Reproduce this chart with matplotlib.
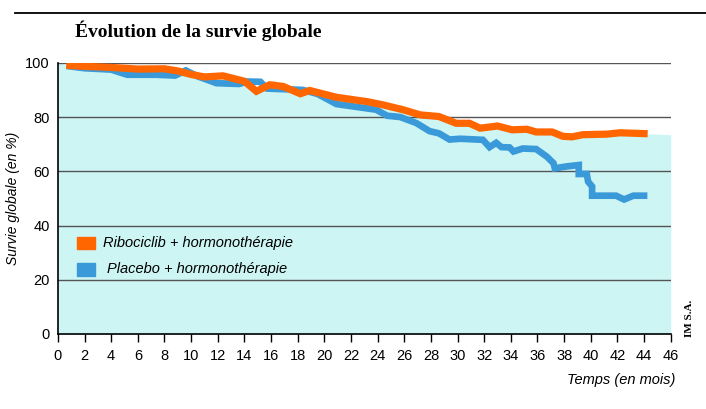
import matplotlib.pyplot as plt

# données (mois, survie en %)
ribo_mois = [0.9, 2, 4, 6, 8, 9, 10, 11, 12.4, 14, 14.9, 15.9, 16.9, 18.2, 18.9, 20.9,
             22.6, 23.2, 24.4, 25.9, 27.2, 28.6, 29.9, 30.9, 31.7, 33, 34.1, 35.2, 35.9,
             37.1, 37.9, 38.6, 39.4, 41.2, 42.2, 44]
ribo_survie = [99, 98.7, 98.3, 97.7, 97.8, 97, 95.7, 94.8, 95.2, 93.2, 89.5, 91.9, 91.3,
               88.6, 89.8, 87.3, 86.1, 85.7, 84.5, 82.7, 80.8, 80.2, 77.7, 77.7, 75.9, 76.7,
               75.3, 75.5, 74.5, 74.5, 72.9, 72.7, 73.5, 73.7, 74.2, 73.9]

plac_mois = [0.9, 2, 4, 5.2, 7.4, 8.8, 9.6, 10.5, 11.9, 13.6, 14.2, 15.2, 15.7, 18.4,
             19.5, 20.9, 23.9, 24.7, 25.7, 26.9, 27.9, 28.6, 29.4, 30.2, 31.9, 32.4, 32.9,
             33.3, 33.9, 34.2, 34.9, 35.9, 36.7, 37.2, 37.3, 38.2, 39.1, 39.1, 39.7,
             39.8, 40.1, 40.1, 41.9, 42.5, 43.2, 44]
plac_survie = [98.7, 98, 97.5, 95.6, 95.6, 95.3, 97.2, 95, 92.5, 92.2, 93.1, 93, 90.5,
               90, 88.5, 84.8, 82.7, 80.5, 80, 77.8, 74.8, 74, 71.7, 72, 71.6, 68.9,
               70.5, 68.9, 68.8, 67.3, 68.4, 68.2, 65.4, 63, 61.1, 61.8, 62.3, 59, 59,
               56.2, 54.4, 51, 51, 49.6, 51, 51]

xticks = list(range(0, 47, 2))
yticks = [0, 20, 40, 60, 80, 100]

orange = '#ff6600'
bleu = '#3a9ad9'
cyan = '#ccf5f4'

fig = plt.figure(figsize=(7.06, 4.09), dpi=100)
ax = fig.add_axes([0.082, 0.1834, 0.868, 0.663])

# zone colorée sous la courbe du bras ribociclib
fond_x = [0] + ribo_mois + [46]
fond_y = [100] + ribo_survie + [73.5]
ax.fill_between(fond_x, 0, fond_y, color=cyan, lw=0, zorder=0)

for y in yticks[1:]:
    ax.axhline(y, color='#555555', lw=1, zorder=1)

ax.plot(plac_mois, plac_survie, color=bleu, lw=4.8, solid_joinstyle='miter', zorder=3)
ax.plot(ribo_mois, ribo_survie, color=orange, lw=5.2, solid_joinstyle='miter', zorder=4)

ax.set_xlim(0, 46)
ax.set_ylim(0, 100)
ax.set_xticks(xticks)
ax.set_yticks(yticks)
ax.tick_params(axis='x', direction='out', length=6, width=1, labelsize=10.5, pad=5)
ax.tick_params(axis='y', length=0, labelsize=10.5, pad=6)
for lab in ax.get_xticklabels() + ax.get_yticklabels():
    lab.set_fontfamily('Liberation Sans')

for s in ['top', 'right']:
    ax.spines[s].set_visible(False)
ax.spines['left'].set_linewidth(1.2)
ax.spines['bottom'].set_linewidth(1.2)
ax.spines['left'].set_zorder(5)
ax.spines['bottom'].set_zorder(5)

ax.set_ylabel('Survie globale (en %)', fontsize=10, style='italic',
              family='Liberation Sans')
ax.yaxis.set_label_coords(-0.062, 0.5)

# légende dessinée à la main
fig.patches.append(plt.Rectangle((77 / 706, 1 - 249 / 409), 18 / 706, 12 / 409,
                                 transform=fig.transFigure, color=orange))
fig.patches.append(plt.Rectangle((77 / 706, 1 - 276 / 409), 18 / 706, 13 / 409,
                                 transform=fig.transFigure, color=bleu))
fig.text(103 / 706, 1 - 243 / 409, 'Ribociclib + hormonothérapie', fontsize=10.5,
         style='italic', family='Liberation Sans', va='center')
fig.text(107 / 706, 1 - 269 / 409, 'Placebo + hormonothérapie', fontsize=10.5,
         style='italic', family='Liberation Sans', va='center')

fig.text(675 / 706, 1 - 380 / 409, 'Temps (en mois)', fontsize=10.5, style='italic',
         family='Liberation Sans', ha='right', va='center')

fig.text(75 / 706, 1 - 31 / 409, 'Évolution de la survie globale', fontsize=14,
         weight='bold', family='Liberation Serif', va='center')
fig.add_artist(plt.Line2D([15 / 706, 1], [1 - 12.5 / 409, 1 - 12.5 / 409],
                          color='black', lw=1.3, transform=fig.transFigure))
fig.text(690 / 706, 1 - 318 / 409, 'IM S.A.', fontsize=8, weight='bold',
         family='Liberation Serif', rotation=90, ha='center', va='center')

plt.savefig('out.png', dpi=100)
